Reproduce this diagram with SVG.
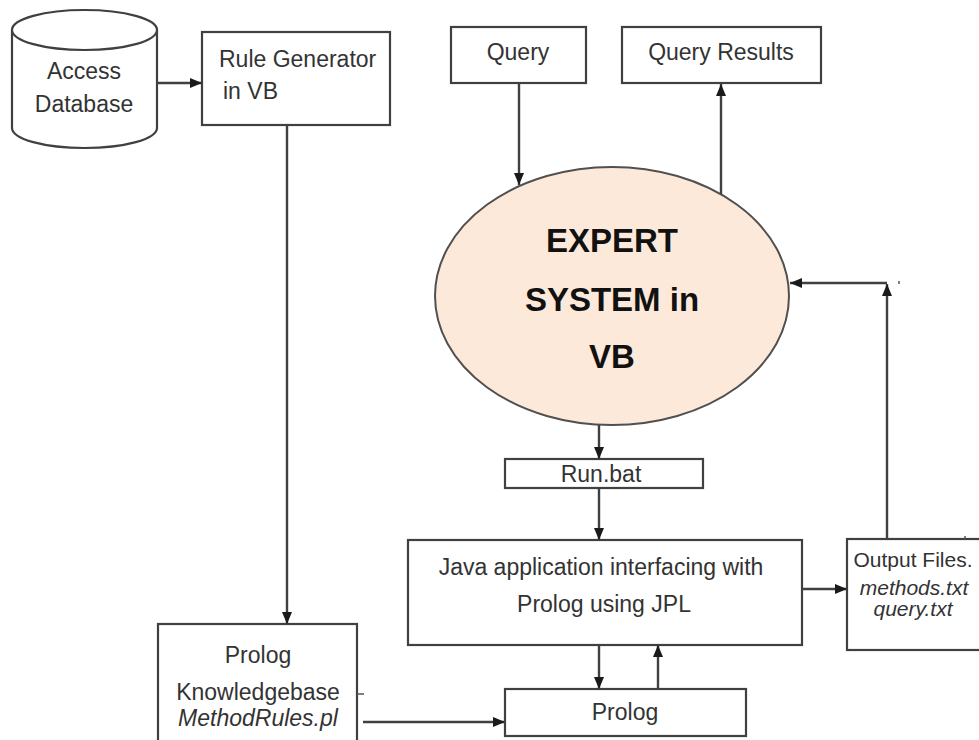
<svg xmlns="http://www.w3.org/2000/svg" width="979" height="740" viewBox="0 0 979 740">
  <defs>
    <marker id="arrow" viewBox="0 0 12 10" refX="12" refY="5" markerWidth="12" markerHeight="10" markerUnits="userSpaceOnUse" orient="auto">
      <path d="M0,0 L12,5 L0,10 Z" fill="#1a1a1a"/>
    </marker>
    <style>
      .box { fill: #ffffff; stroke: #404040; stroke-width: 2.2; }
      .link { fill: none; stroke: #404040; stroke-width: 2.4; marker-end: url(#arrow); }
      .stray { fill: none; stroke: #555555; stroke-width: 1.5; }
      .lbl { font-family: "Liberation Sans", Arial, sans-serif; font-size: 23px; fill: #333333; text-anchor: middle; }
      .small { font-size: 21px; }
      .it { font-style: italic; }
      .big { font-family: "Liberation Sans", Arial, sans-serif; font-size: 33px; font-weight: bold; fill: #111111; text-anchor: middle; }
    </style>
  </defs>
  <rect width="979" height="740" fill="#ffffff"/>

  <!-- Access database cylinder -->
  <g id="access-db">
    <path class="box" d="M12,30 V128 A72.5,20 0 0 0 157,128 V30"/>
    <ellipse class="box" cx="84.5" cy="30" rx="72.5" ry="20"/>
    <text class="lbl" x="84" y="79">Access</text>
    <text class="lbl" x="84" y="112">Database</text>
  </g>

  <!-- Rule generator -->
  <g id="rule-generator">
    <rect class="box" x="202" y="32" width="188" height="93"/>
    <text class="lbl" x="219" y="67" style="text-anchor:start">Rule Generator</text>
    <text class="lbl" x="223" y="99" style="text-anchor:start">in VB</text>
  </g>

  <!-- Query -->
  <g id="query">
    <rect class="box" x="451" y="27" width="135" height="56"/>
    <text class="lbl" x="518" y="60">Query</text>
  </g>

  <!-- Query results -->
  <g id="query-results">
    <rect class="box" x="622" y="27" width="199" height="56"/>
    <text class="lbl" x="721" y="60">Query Results</text>
  </g>

  <!-- Expert system -->
  <g id="expert-system">
    <ellipse cx="612" cy="296" rx="177" ry="129" fill="#fde9da" stroke="#505050" stroke-width="2"/>
    <text class="big" x="612" y="252">EXPERT</text>
    <text class="big" x="612" y="311">SYSTEM in</text>
    <text class="big" x="612" y="368">VB</text>
  </g>

  <!-- Run.bat -->
  <g id="run-bat">
    <rect class="box" x="505" y="459" width="198" height="29"/>
    <text class="lbl" x="601" y="482">Run.bat</text>
  </g>

  <!-- Java / JPL bridge -->
  <g id="java-app">
    <rect class="box" x="408" y="540" width="394" height="105"/>
    <text class="lbl" x="601" y="575">Java application interfacing with</text>
    <text class="lbl" x="604" y="612">Prolog using JPL</text>
  </g>

  <!-- Output files -->
  <g id="output-files">
    <rect class="box" x="847" y="539" width="140" height="111"/>
    <text class="lbl small" x="913" y="567">Output Files.</text>
    <text class="lbl small it" x="914" y="595">methods.txt</text>
    <text class="lbl small it" x="913" y="616">query.txt</text>
  </g>

  <!-- Prolog knowledge base -->
  <g id="prolog-kb">
    <rect class="box" x="158" y="624" width="199" height="130"/>
    <text class="lbl" x="258" y="663">Prolog</text>
    <text class="lbl" x="258" y="700">Knowledgebase</text>
    <text class="lbl it" x="258" y="726">MethodRules.pl</text>
  </g>

  <!-- Prolog engine -->
  <g id="prolog">
    <rect class="box" x="505" y="689" width="241" height="47"/>
    <text class="lbl" x="625" y="720">Prolog</text>
  </g>

  <!-- Connectors -->
  <g id="connectors">
    <path class="link" d="M157,83 H202"/>
    <path class="link" d="M287,125 V624"/>
    <path class="link" d="M363,722 H505"/>
    <path class="link" d="M519,83 V185"/>
    <path class="link" d="M721,194 V84"/>
    <path class="link" d="M599,425 V459"/>
    <path class="link" d="M599,488 V540"/>
    <path class="link" d="M599,645 V689"/>
    <path class="link" d="M658,689 V645"/>
    <path class="link" d="M802,589 H847"/>
    <path class="link" d="M887,539 V284"/>
    <path class="link" d="M887,283 H790"/>
    <!-- small stray ticks -->
    <path class="stray" d="M357,694 H364"/>
    <path class="stray" d="M899,281 V284"/>
    <path class="stray" d="M965,536 V539"/>
  </g>
</svg>
